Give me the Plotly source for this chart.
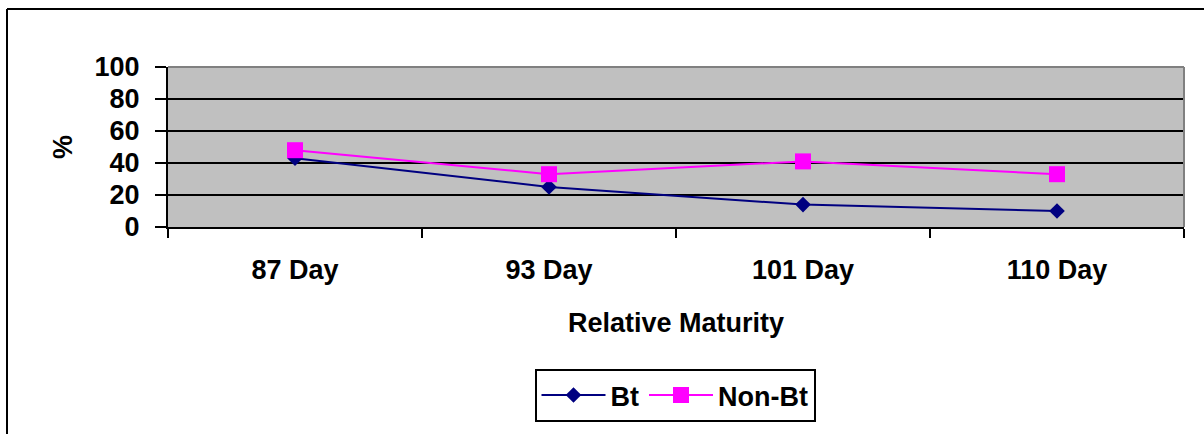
import plotly.graph_objects as go

categories = ["87 Day", "93 Day", "101 Day", "110 Day"]
bt = [43, 25, 14, 10]
non_bt = [48, 33, 41, 33]
y_ticks = [0, 20, 40, 60, 80, 100]

W, H = 1204, 434
L, R, T, B = 168, 20, 67, 207
PW = W - L - R
PH = H - T - B

def px_x(p):
    return (p - L) / PW

def px_y(p):
    return (H - B - p) / PH

FONT = "Arial, Liberation Sans, sans-serif"
FS = 27

fig = go.Figure()
fig.add_trace(go.Scatter(
    x=categories, y=bt, name="<b>Bt</b>", mode="lines+markers",
    line=dict(color="#000080", width=2),
    marker=dict(symbol="diamond", size=12, color="#000080"),
))
fig.add_trace(go.Scatter(
    x=categories, y=non_bt, name="<b>Non-Bt</b>", mode="lines+markers",
    line=dict(color="#FF00FF", width=2),
    marker=dict(symbol="square", size=16, color="#FF00FF"),
))

fig.update_layout(
    width=W, height=H,
    margin=dict(l=L, r=R, t=T, b=B, pad=0),
    paper_bgcolor="white",
    plot_bgcolor="#C0C0C0",
    font=dict(family=FONT, size=FS, color="black"),
    showlegend=True,
    legend=dict(
        orientation="h", x=px_x(675), xanchor="center",
        y=px_y(369), yanchor="top",
        bordercolor="black", borderwidth=2, bgcolor="white",
        font=dict(family=FONT, size=FS, color="black"),
        itemwidth=64,
    ),
    xaxis=dict(
        type="category", tickson="boundaries",
        range=[-0.5, 3.5],
        showline=True, linecolor="black", linewidth=2,
        ticks="outside", ticklen=9, tickwidth=2, tickcolor="black",
        showgrid=False, zeroline=False,
        ticklabelstandoff=18,
        tickfont=dict(family=FONT, size=FS, color="black", weight="bold"),
    ),
    yaxis=dict(
        range=[0, 100], tickvals=y_ticks,
        showline=True, linecolor="black", linewidth=2,
        ticks="outside", ticklen=11, tickwidth=2, tickcolor="black",
        showgrid=True, gridcolor="black", gridwidth=2,
        zeroline=False,
        ticklabelstandoff=10,
        tickfont=dict(family=FONT, size=FS, color="black", weight="bold"),
    ),
)

# plot area top/right gray border
fig.add_shape(type="line", xref="paper", yref="paper", x0=0, x1=1, y0=1, y1=1,
              line=dict(color="#808080", width=2), layer="above")
fig.add_shape(type="line", xref="paper", yref="paper", x0=1, x1=1, y0=0, y1=1,
              line=dict(color="#808080", width=2), layer="above")

# outer chart frame (top and left edges visible)
fig.add_shape(type="line", xref="paper", yref="paper",
              x0=px_x(7), x1=px_x(1210), y0=px_y(9), y1=px_y(9),
              line=dict(color="black", width=2), layer="above")
fig.add_shape(type="line", xref="paper", yref="paper",
              x0=px_x(7), x1=px_x(7), y0=px_y(9), y1=px_y(440),
              line=dict(color="black", width=2), layer="above")

fig.add_annotation(text="<b>%</b>", xref="paper", yref="paper",
                   x=px_x(63), y=px_y(147), textangle=-90, showarrow=False,
                   xanchor="center", yanchor="middle",
                   font=dict(family=FONT, size=FS, color="black"))
fig.add_annotation(text="<b>Relative Maturity</b>", xref="paper", yref="paper",
                   x=px_x(676), y=px_y(323), showarrow=False,
                   xanchor="center", yanchor="middle",
                   font=dict(family=FONT, size=FS, color="black"))

fig.write_html(
    "out.html",
    config={"displayModeBar": False},
    post_script="document.body.style.margin='0';document.body.style.overflow='hidden';",
)
